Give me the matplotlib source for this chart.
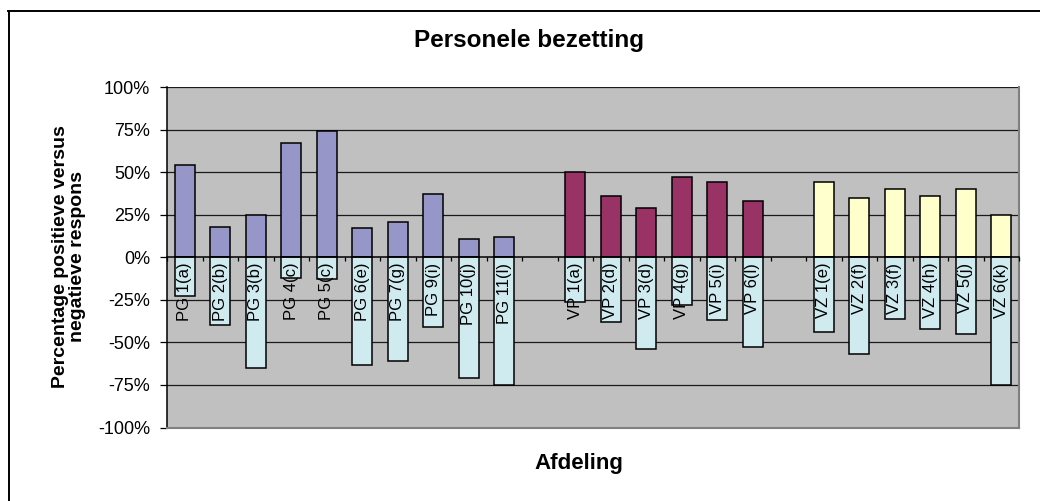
import numpy as np
import matplotlib
matplotlib.use("Agg")
import matplotlib.pyplot as plt
from matplotlib.lines import Line2D

plt.rcParams['font.family'] = ['Liberation Sans', 'DejaVu Sans']

# afdelingen per groep, met % positieve en % negatieve respons
pg_labels = ["PG 1(a)", "PG 2(b)", "PG 3(b)", "PG 4(c)", "PG 5(c)",
             "PG 6(e)", "PG 7(g)", "PG 9(i)", "PG 10(j)", "PG 11(l)"]
pg_pos = [54, 18, 25, 67, 74, 17, 20.5, 37, 11, 12]
pg_neg = [23, 40, 65, 12, 13, 63, 61, 41, 71, 75]

vp_labels = ["VP 1(a)", "VP 2(d)", "VP 3(d)", "VP 4(g)", "VP 5(i)", "VP 6(l)"]
vp_pos = [50, 36, 29, 47, 44, 33]
vp_neg = [26, 38, 54, 28, 37, 53]

vz_labels = ["VZ 1(e)", "VZ 2(f)", "VZ 3(f)", "VZ 4(h)", "VZ 5(j)", "VZ 6(k)"]
vz_pos = [44, 35, 40, 36, 40, 25]
vz_neg = [44, 57, 36, 42, 45, 75]

yticks = [-100, -75, -50, -25, 0, 25, 50, 75, 100]

W, H = 1040, 501
fig = plt.figure(figsize=(W / 100, H / 100), dpi=100)
ax = fig.add_axes([167 / W, 1 - 427.5 / H, (1019 - 167) / W, (427.5 - 87) / H])
ax.set_facecolor('#C0C0C0')

groups = [(pg_labels, pg_pos, pg_neg, '#9696C8'),
          (vp_labels, vp_pos, vp_neg, '#993366'),
          (vz_labels, vz_pos, vz_neg, '#FFFFCC')]
neg_color = '#CFEBF0'

xs_all, labels_all = [], []
start = 0
for labels, pos, neg, col in groups:
    xs = np.arange(len(labels)) + start
    ax.bar(xs, pos, width=0.56, color=col, edgecolor='black', linewidth=1.1, zorder=1)
    ax.bar(xs, -np.array(neg), width=0.56, color=neg_color, edgecolor='black',
           linewidth=1.1, zorder=1)
    xs_all += list(xs)
    labels_all += labels
    start += len(labels) + 1  # lege categorie tussen de groepen

n_slots = start - 1
ax.set_xlim(-0.5, n_slots - 0.5)
ax.set_ylim(-100, 100)

# gridlijnen
for y in yticks:
    if y != 0:
        ax.axhline(y, color='#1a1a1a', linewidth=0.9, zorder=0.5)

ax.set_yticks(yticks)
ax.set_yticklabels([f"{v}%" for v in yticks], fontsize=13)
ax.tick_params(axis='y', direction='out', length=5, width=0.9, pad=7)

# x-as op 0%, tick marks tussen categorieën
ax.spines['bottom'].set_position(('data', 0))
ax.spines['bottom'].set_linewidth(1.1)
ax.set_xticks(np.arange(n_slots + 1) - 0.5)
ax.set_xticklabels([])
ax.tick_params(axis='x', which='major', direction='out', length=3, width=0.9)
ax.set_xticks(xs_all, minor=True)
ax.set_xticklabels(labels_all, minor=True, rotation=90, fontsize=12, va='top')
ax.tick_params(axis='x', which='minor', length=0, pad=4)
ax.xaxis.set_zorder(3)

ax.spines['left'].set_linewidth(1.1)
ax.spines['top'].set_visible(False)
ax.spines['right'].set_color('#808080')
ax.spines['right'].set_linewidth(1.5)
# onderrand van het plotgebied
ax.plot([0, 1], [0, 0], transform=ax.transAxes, color='#808080', linewidth=1.5,
        clip_on=False, zorder=4)

fig.text(529 / W, 1 - 40 / H, "Personele bezetting", fontsize=17.5, fontweight='bold',
         ha='center', va='center')
fig.text(579 / W, 1 - 464 / H, "Afdeling", fontsize=16, fontweight='bold',
         ha='center', va='center')
fig.text(69 / W, 1 - 257 / H, "Percentage positieve versus\nnegatieve respons",
         fontsize=14, fontweight='bold', rotation=90, ha='center', va='center',
         multialignment='center', linespacing=1.05)

# kader van het diagram
fig.add_artist(Line2D([8 / W, 1], [1 - 10.5 / H, 1 - 10.5 / H], color='black',
                      linewidth=1.4, transform=fig.transFigure))
fig.add_artist(Line2D([8.5 / W, 8.5 / W], [0, 1 - 10.5 / H], color='black',
                      linewidth=1.4, transform=fig.transFigure))

fig.savefig("out.png", dpi=100)
